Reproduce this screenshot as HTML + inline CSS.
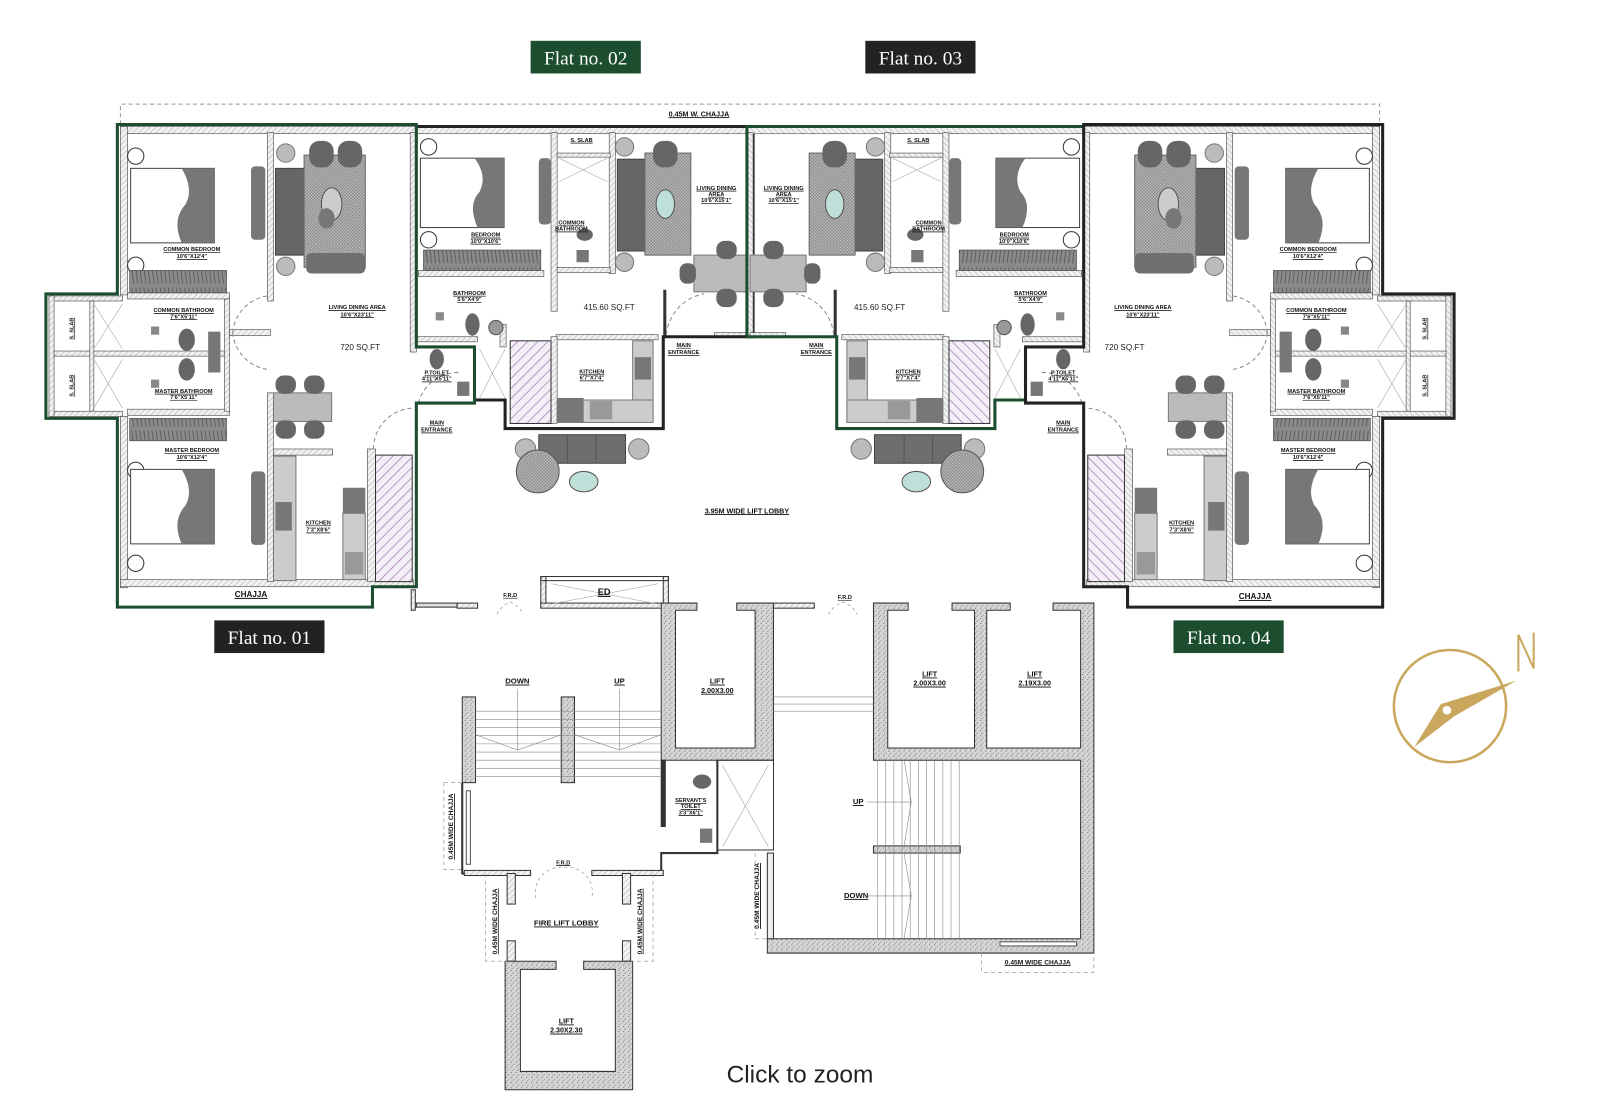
<!DOCTYPE html>
<html><head><meta charset="utf-8"><style>
html,body{margin:0;padding:0;background:#fff;width:1600px;height:1100px;overflow:hidden}
svg{display:block}
.t{font-family:"Liberation Sans",sans-serif;font-size:5.5px;font-weight:bold;fill:#111;text-decoration:underline;text-anchor:middle}
.m{font-family:"Liberation Sans",sans-serif;font-size:8px;fill:#222;text-anchor:middle}
.tag{font-family:"Liberation Serif",serif;font-size:19px;fill:#fff;text-anchor:middle}
</style></head><body>
<svg width="1600" height="1100" viewBox="0 0 1568 1078" xmlns="http://www.w3.org/2000/svg">
<defs>
<pattern id="hw" width="4" height="4" patternUnits="userSpaceOnUse" patternTransform="rotate(45)"><rect width="4" height="4" fill="#f2f2f2"/><line x1="0" y1="0" x2="0" y2="4" stroke="#999" stroke-width="0.8"/></pattern>
<pattern id="pu" width="7" height="7" patternUnits="userSpaceOnUse" patternTransform="rotate(45)"><rect width="7" height="7" fill="#f4eef6"/><line x1="0" y1="0" x2="0" y2="7" stroke="#9a6fae" stroke-width="1.3"/></pattern>
<pattern id="ck" width="3" height="3" patternUnits="userSpaceOnUse"><rect width="3" height="3" fill="#bdbdbd"/><rect width="1.5" height="1.5" fill="#888"/><rect x="1.5" y="1.5" width="1.5" height="1.5" fill="#888"/></pattern>
<pattern id="sp" width="5" height="5" patternUnits="userSpaceOnUse"><rect width="5" height="5" fill="#d6d6d6"/><circle cx="1" cy="1" r=".6" fill="#777"/><circle cx="3.5" cy="3" r=".6" fill="#999"/><circle cx="2" cy="4.2" r=".5" fill="#666"/></pattern>
<pattern id="wd" width="8" height="20" patternUnits="userSpaceOnUse"><rect width="8" height="20" fill="#8a8a8a"/><path d="M1 2 L3 18 M5 2 L7 18" stroke="#555" stroke-width=".8"/></pattern>
</defs>

<!-- top chajja dashed -->
<path d="M118,122 V102 H1352 V122" fill="none" stroke="#999" stroke-width="1" stroke-dasharray="4,3"/>

<g style="--a:#1b4d2e;--b:#222">
<g id="L">
 <!-- exterior walls flat1 -->
 <rect x="118" y="124" width="290" height="7" fill="url(#hw)" stroke="#444" stroke-width=".6"/>
 <rect x="118" y="124" width="7" height="165" fill="url(#hw)" stroke="#444" stroke-width=".6"/>
 <rect x="118" y="408" width="7" height="168" fill="url(#hw)" stroke="#444" stroke-width=".6"/>
 <rect x="118" y="568" width="287" height="7" fill="url(#hw)" stroke="#444" stroke-width=".6"/>
 <line x1="160" y1="131" x2="250" y2="131" stroke="#999" stroke-dasharray="6,4"/>
 <line x1="290" y1="131" x2="395" y2="131" stroke="#999" stroke-dasharray="6,4"/>
 <line x1="160" y1="568" x2="250" y2="568" stroke="#999" stroke-dasharray="6,4"/>
 <!-- interior walls -->
 <rect x="262" y="130" width="6" height="165" fill="url(#hw)" stroke="#444" stroke-width=".6"/>
 <rect x="262" y="385" width="6" height="185" fill="url(#hw)" stroke="#444" stroke-width=".6"/>
 <rect x="402" y="130" width="6" height="215" fill="url(#hw)" stroke="#444" stroke-width=".6"/>
 <rect x="125" y="287" width="100" height="6" fill="url(#hw)" stroke="#444" stroke-width=".6"/>
 <rect x="125" y="401" width="100" height="6" fill="url(#hw)" stroke="#444" stroke-width=".6"/>
 <rect x="48" y="290" width="72" height="5" fill="url(#hw)" stroke="#444" stroke-width=".6"/>
 <rect x="48" y="403" width="72" height="5" fill="url(#hw)" stroke="#444" stroke-width=".6"/>
 <rect x="48" y="290" width="5" height="118" fill="url(#hw)" stroke="#444" stroke-width=".6"/>
 <rect x="53" y="344" width="172" height="5" fill="url(#hw)" stroke="#444" stroke-width=".6"/>
 <rect x="88" y="295" width="4" height="108" fill="url(#hw)" stroke="#444" stroke-width=".6"/>
 <rect x="220" y="293" width="5" height="110" fill="url(#hw)" stroke="#444" stroke-width=".6"/>
 <rect x="225" y="323" width="40" height="6" fill="url(#hw)" stroke="#444" stroke-width=".6"/>
 <rect x="268" y="440" width="58" height="6" fill="url(#hw)" stroke="#444" stroke-width=".6"/>
 <rect x="360" y="440" width="8" height="130" fill="url(#hw)" stroke="#444" stroke-width=".6"/>
 <path d="M92,298 L120,342 M120,298 L92,342 M92,352 L120,400 M120,352 L92,400" stroke="#aaa" stroke-width=".6"/>
 <!-- shaft -->
 <rect x="368" y="446" width="36" height="124" fill="url(#pu)" stroke="#333" stroke-width="1"/>
 <!-- bedrooms -->
 <circle cx="133" cy="153" r="8" fill="#fff" stroke="#333"/>
 <circle cx="133" cy="260" r="8" fill="#fff" stroke="#333"/>
 <rect x="128" y="165" width="82" height="73" fill="#fff" stroke="#444"/>
 <path d="M178,165 H210 V238 H178 Q168,215 182,200 Q190,185 178,165Z" fill="#777"/>
 <rect x="127" y="265" width="95" height="22" fill="url(#wd)" stroke="#444" stroke-width=".6"/>
 <circle cx="133" cy="461" r="8" fill="#fff" stroke="#333"/>
 <circle cx="133" cy="552" r="8" fill="#fff" stroke="#333"/>
 <rect x="128" y="460" width="82" height="73" fill="#fff" stroke="#444"/>
 <path d="M178,460 H210 V533 H178 Q168,510 182,495 Q190,480 178,460Z" fill="#777"/>
 <rect x="127" y="410" width="95" height="22" fill="url(#wd)" stroke="#444" stroke-width=".6"/>
 <rect x="246" y="163" width="14" height="72" rx="4" fill="#777"/>
 <rect x="246" y="462" width="14" height="72" rx="4" fill="#777"/>
 <!-- bathrooms -->
 <ellipse cx="183" cy="333" rx="8" ry="11" fill="#666"/>
 <ellipse cx="183" cy="362" rx="8" ry="11" fill="#666"/>
 <rect x="148" y="320" width="8" height="8" fill="#888"/>
 <rect x="148" y="372" width="8" height="8" fill="#888"/>
 <rect x="204" y="325" width="12" height="40" fill="#777"/>
 <!-- living sofa set -->
 <rect x="270" y="165" width="30" height="85" fill="#666" stroke="#444"/>
 <rect x="298" y="152" width="60" height="110" fill="url(#ck)" stroke="#666"/>
 <rect x="303" y="138" width="24" height="26" rx="10" fill="#666"/>
 <rect x="331" y="138" width="24" height="26" rx="10" fill="#666"/>
 <rect x="300" y="248" width="58" height="20" rx="5" fill="#707070"/>
 <ellipse cx="325" cy="200" rx="10" ry="16" fill="#ccc" stroke="#555"/>
 <ellipse cx="320" cy="214" rx="8" ry="10" fill="#777"/>
 <circle cx="280" cy="150" r="9" fill="#bbb" stroke="#777"/>
 <circle cx="280" cy="261" r="9" fill="#bbb" stroke="#777"/>
 <!-- dining -->
 <rect x="268" y="385" width="57" height="28" fill="#bbb" stroke="#777"/>
 <rect x="270" y="368" width="20" height="18" rx="8" fill="#666"/>
 <rect x="298" y="368" width="20" height="18" rx="8" fill="#666"/>
 <rect x="270" y="412" width="20" height="18" rx="8" fill="#666"/>
 <rect x="298" y="412" width="20" height="18" rx="8" fill="#666"/>
 <!-- kitchen -->
 <rect x="268" y="447" width="22" height="122" fill="#ccc" stroke="#777"/>
 <rect x="270" y="492" width="16" height="28" fill="#777"/>
 <rect x="336" y="478" width="22" height="25" fill="#777"/>
 <rect x="336" y="503" width="22" height="65" fill="#ccc" stroke="#777"/>
 <rect x="338" y="541" width="18" height="22" fill="#999"/>
 <!-- door arcs -->
 <path d="M228,326 A40,40 0 0 1 262,290 M228,326 A40,40 0 0 0 262,362" fill="none" stroke="#888" stroke-dasharray="4,3"/>
 <path d="M366,440 A40,40 0 0 1 406,400" fill="none" stroke="#888" stroke-dasharray="4,3"/>

 <!-- flat2 walls -->
 <rect x="408" y="124" width="330" height="7" fill="url(#hw)" stroke="#444" stroke-width=".6"/>
 <line x1="420" y1="131" x2="530" y2="131" stroke="#999" stroke-dasharray="6,4"/>
 <line x1="605" y1="131" x2="730" y2="131" stroke="#999" stroke-dasharray="6,4"/>
 <rect x="540" y="130" width="6" height="175" fill="url(#hw)" stroke="#444" stroke-width=".6"/>
 <rect x="597" y="130" width="6" height="138" fill="url(#hw)" stroke="#444" stroke-width=".6"/>
 <rect x="546" y="150" width="52" height="4" fill="url(#hw)" stroke="#444" stroke-width=".6"/>
 <rect x="546" y="262" width="52" height="5" fill="url(#hw)" stroke="#444" stroke-width=".6"/>
 <path d="M548,155 L595,178 M595,155 L548,178" stroke="#aaa" stroke-width=".6"/>
 <rect x="410" y="265" width="123" height="6" fill="url(#hw)" stroke="#444" stroke-width=".6"/>
 <rect x="408" y="330" width="60" height="5" fill="url(#hw)" stroke="#444" stroke-width=".6"/>
 <rect x="732" y="130" width="6" height="200" fill="url(#hw)" stroke="#444" stroke-width=".6"/>
 <rect x="545" y="328" width="100" height="5" fill="url(#hw)" stroke="#444" stroke-width=".6"/>
 <rect x="650" y="284" width="3" height="46" fill="#333"/>
 <rect x="700" y="326" width="35" height="5" fill="url(#hw)" stroke="#444" stroke-width=".6"/>
 <rect x="490" y="318" width="6" height="22" fill="url(#hw)" stroke="#444" stroke-width=".6"/>
 <rect x="540" y="330" width="6" height="85" fill="url(#hw)" stroke="#444" stroke-width=".6"/>
 <rect x="465" y="340" width="30" height="52" fill="none"/>
 <path d="M470,342 L495,390 M495,342 L470,390" stroke="#aaa" stroke-width=".6"/>
 <rect x="500" y="334" width="40" height="81" fill="url(#pu)" stroke="#333"/>
 <!-- flat2 furniture -->
 <circle cx="420" cy="144" r="8" fill="#fff" stroke="#333"/>
 <circle cx="420" cy="235" r="8" fill="#fff" stroke="#333"/>
 <rect x="412" y="155" width="82" height="68" fill="#fff" stroke="#444"/>
 <path d="M465,155 H494 V223 H468 Q458,200 470,188 Q478,172 465,155Z" fill="#777"/>
 <rect x="415" y="245" width="115" height="20" fill="url(#wd)" stroke="#444" stroke-width=".6"/>
 <rect x="528" y="155" width="12" height="65" rx="4" fill="#777"/>
 <rect x="605" y="156" width="28" height="90" fill="#666" stroke="#444"/>
 <rect x="632" y="150" width="45" height="100" fill="url(#ck)" stroke="#666"/>
 <rect x="640" y="138" width="24" height="26" rx="10" fill="#666"/>
 <ellipse cx="652" cy="200" rx="9" ry="14" fill="#bfe0d8" stroke="#555"/>
 <circle cx="612" cy="144" r="9" fill="#bbb" stroke="#777"/>
 <circle cx="612" cy="257" r="9" fill="#bbb" stroke="#777"/>
 <rect x="680" y="250" width="55" height="36" fill="#bbb" stroke="#777"/>
 <rect x="702" y="236" width="20" height="18" rx="8" fill="#666"/>
 <rect x="702" y="283" width="20" height="18" rx="8" fill="#666"/>
 <rect x="666" y="258" width="16" height="20" rx="7" fill="#666"/>
 <ellipse cx="573" cy="230" rx="8" ry="6" fill="#666"/>
 <rect x="565" y="245" width="12" height="12" fill="#777"/>
 <ellipse cx="463" cy="318" rx="7" ry="11" fill="#666"/>
 <rect x="427" y="306" width="8" height="8" fill="#888"/>
 <circle cx="486" cy="321" r="7" fill="#999" stroke="#555"/>
 <ellipse cx="428" cy="352" rx="7" ry="10" fill="#666"/>
 <rect x="448" y="374" width="12" height="14" fill="#777"/>
 <!-- kitchen -->
 <rect x="620" y="334" width="20" height="78" fill="#ccc" stroke="#777"/>
 <rect x="622" y="350" width="16" height="22" fill="#777"/>
 <rect x="546" y="392" width="94" height="22" fill="#ccc" stroke="#777"/>
 <rect x="546" y="390" width="26" height="24" fill="#777"/>
 <rect x="578" y="393" width="22" height="18" fill="#999"/>
 <!-- lobby seating -->
 <rect x="528" y="426" width="85" height="28" fill="#6e6e6e" stroke="#444"/>
 <line x1="556" y1="426" x2="556" y2="454" stroke="#555"/><line x1="584" y1="426" x2="584" y2="454" stroke="#555"/>
 <circle cx="515" cy="440" r="10" fill="#bbb" stroke="#777"/>
 <circle cx="626" cy="440" r="10" fill="#bbb" stroke="#777"/>
 <circle cx="527" cy="462" r="21" fill="url(#ck)" stroke="#555"/>
 <ellipse cx="572" cy="472" rx="14" ry="10" fill="#bfe0d8" stroke="#555"/>
 <path d="M653,328 A45,45 0 0 1 690,288" fill="none" stroke="#888" stroke-dasharray="4,3"/>
 <path d="M410,395 A40,40 0 0 1 450,365" fill="none" stroke="#888" stroke-dasharray="4,3"/>
 <!-- outlines -->
 <path d="M408,124 H738 V330 H650 V420 H495 V392 H465" fill="none" style="stroke:var(--b)" stroke-width="3"/>
 <path d="M115,122 H408 V340 H465 V395 H408 V575 H365 V595 H115 V410 H45 V288 H115 Z" fill="none" style="stroke:var(--a)" stroke-width="3"/>
</g>
</g>
<use href="#L" transform="translate(1470,0) scale(-1,1)" style="--a:#222;--b:#1b4d2e"/>

<!-- core bottom -->
<g stroke="#333" stroke-width="1">
 <rect x="403" y="578" width="4" height="20" fill="url(#hw)"/>
 <rect x="408" y="591" width="40" height="4" fill="#ddd"/>
 <rect x="448" y="591" width="20" height="5" fill="url(#hw)"/>
 <rect x="530" y="565" width="5" height="30" fill="url(#hw)"/>
 <rect x="650" y="565" width="5" height="30" fill="url(#hw)"/>
 <rect x="530" y="591" width="120" height="5" fill="url(#hw)"/>
 <rect x="530" y="565" width="125" height="4" fill="none"/>
 <path d="M540,572 L645,592 M645,572 L540,592" stroke="#aaa" stroke-width=".6"/>
 <!-- lift 1 -->
 <path d="M648,591 H683 V598 H662 V733 H740 V598 H722 V591 H758 V745 H648 Z" fill="url(#sp)"/>
 <!-- lifts 2,3 -->
 <path d="M856,591 H890 V598 H870 V733 H955 V598 H933 V591 H990 V598 H967 V733 H1059 V598 H1032 V591 H1072 V934 H752 V920 H1059 V745 H856 Z" fill="url(#sp)"/>
 <rect x="758" y="591" width="40" height="5" fill="url(#hw)"/>
 <rect x="856" y="829" width="85" height="7" fill="url(#sp)"/>
 <!-- left stair -->
 <rect x="453" y="683" width="13" height="84" fill="url(#sp)"/>
 <rect x="550" y="683" width="13" height="84" fill="url(#sp)"/>
 <path d="M453,767 V856 H520 M580,856 H648 V836 H703 V745" fill="none" stroke="#333" stroke-width="2"/>
 <rect x="455" y="853" width="65" height="5" fill="url(#hw)"/>
 <rect x="580" y="853" width="70" height="5" fill="url(#hw)"/>
 <rect x="648" y="745" width="4" height="65" fill="#333"/>
 <rect x="703" y="745" width="55" height="88" fill="none"/>
 <path d="M708,750 L753,830 M753,750 L708,830" stroke="#aaa" stroke-width=".6"/>
 <!-- fire lift lobby -->
 <rect x="497" y="856" width="8" height="30" fill="url(#hw)"/>
 <rect x="610" y="856" width="8" height="30" fill="url(#hw)"/>
 <rect x="497" y="922" width="8" height="20" fill="url(#hw)"/>
 <rect x="610" y="922" width="8" height="20" fill="url(#hw)"/>
 <path d="M495,942 H545 V950 H510 V1050 H603 V950 H572 V942 H620 V1068 H495 Z" fill="url(#sp)"/>
 <rect x="752" y="836" width="6" height="84" fill="#eee"/>
</g>
<g stroke="#888" stroke-width=".6" fill="none">
 <path d="M466,697 H648 M466,705 H648 M466,713 H648 M466,721 H648 M466,729 H648 M466,737 H648 M466,745 H648 M466,753 H648 M466,761 H648"/>
 <path d="M466,720 L507,735 L550,720 M563,720 L607,735 L648,720 M507,675 V735 M607,675 V735"/>
 <path d="M758,683 H856 M758,690 H856 M758,697 H856"/>
 <path d="M860,745 V920 M868,745 V920 M876,745 V920 M884,745 V920 M892,745 V920 M900,745 V920 M908,745 V920 M916,745 V920 M924,745 V920 M932,745 V920 M940,745 V920"/>
 <path d="M886,745 L893,786 L886,829 M886,836 L893,878 L886,920 M850,786 H893 M850,878 H893"/>
 <path d="M435,767 H453 M435,767 V852 H453" stroke-dasharray="4,3"/>
 <path d="M476,856 V942 H497 M640,856 V942 H618 M740,836 V920 H752 M962,934 V953 H1072 V934" stroke-dasharray="4,3"/>
 <path d="M487,602 A25,25 0 0 1 500,590 A25,25 0 0 1 513,602 M812,602 A25,25 0 0 1 826,590 A25,25 0 0 1 840,602 M525,880 A25,25 0 0 1 552,850 A25,25 0 0 1 580,880" stroke-dasharray="3,3"/>
</g>
<rect x="457" y="775" width="4" height="72" fill="#fff" stroke="#555"/>
<rect x="980" y="923" width="75" height="4" fill="#fff" stroke="#555"/>
<ellipse cx="688" cy="766" rx="9" ry="7" fill="#666"/>
<rect x="686" y="812" width="12" height="14" fill="#777"/>

<!-- labels -->
<g class="t">
<text x="188" y="246" class="t">COMMON BEDROOM</text><text x="188" y="253" class="t">10'6"X12'4"</text>
<text x="1282" y="246" class="t">COMMON BEDROOM</text><text x="1282" y="253" class="t">10'6"X12'4"</text>
<text x="350" y="303" class="t">LIVING DINING AREA</text><text x="350" y="310" class="t">10'6"X23'11"</text>
<text x="1120" y="303" class="t">LIVING DINING AREA</text><text x="1120" y="310" class="t">10'6"X23'11"</text>
<text x="180" y="306" class="t">COMMON BATHROOM</text><text x="180" y="312" class="t">7'6"X5'11"</text>
<text x="1290" y="306" class="t">COMMON BATHROOM</text><text x="1290" y="312" class="t">7'6"X5'11"</text>
<text x="180" y="385" class="t">MASTER BATHROOM</text><text x="180" y="391" class="t">7'6"X5'11"</text>
<text x="1290" y="385" class="t">MASTER BATHROOM</text><text x="1290" y="391" class="t">7'6"X5'11"</text>
<text x="188" y="443" class="t">MASTER BEDROOM</text><text x="188" y="450" class="t">10'6"X12'4"</text>
<text x="1282" y="443" class="t">MASTER BEDROOM</text><text x="1282" y="450" class="t">10'6"X12'4"</text>
<text x="312" y="514" class="t">KITCHEN</text><text x="312" y="521" class="t">7'3"X8'6"</text>
<text x="1158" y="514" class="t">KITCHEN</text><text x="1158" y="521" class="t">7'3"X8'6"</text>
<text x="428" y="367" class="t">P.TOILET</text><text x="428" y="373" class="t">4'11"X5'11"</text>
<text x="1042" y="367" class="t">P.TOILET</text><text x="1042" y="373" class="t">4'11"X5'11"</text>
<text x="428" y="416" class="t">MAIN</text><text x="428" y="423" class="t">ENTRANCE</text>
<text x="1042" y="416" class="t">MAIN</text><text x="1042" y="423" class="t">ENTRANCE</text>
<text x="476" y="232" class="t">BEDROOM</text><text x="476" y="238" class="t">10'0"X10'6"</text>
<text x="994" y="232" class="t">BEDROOM</text><text x="994" y="238" class="t">10'0"X10'6"</text>
<text x="570" y="139" class="t">S. SLAB</text><text x="900" y="139" class="t">S. SLAB</text>
<text x="560" y="220" class="t">COMMON</text><text x="560" y="226" class="t">BATHROOM</text>
<text x="910" y="220" class="t">COMMON</text><text x="910" y="226" class="t">BATHROOM</text>
<text x="702" y="186" class="t">LIVING DINING</text><text x="702" y="192" class="t">AREA</text><text x="702" y="198" class="t">10'6"X15'1"</text>
<text x="768" y="186" class="t">LIVING DINING</text><text x="768" y="192" class="t">AREA</text><text x="768" y="198" class="t">10'6"X15'1"</text>
<text x="460" y="289" class="t">BATHROOM</text><text x="460" y="295" class="t">5'6"X4'9"</text>
<text x="1010" y="289" class="t">BATHROOM</text><text x="1010" y="295" class="t">5'6"X4'9"</text>
<text x="580" y="366" class="t">KITCHEN</text><text x="580" y="372" class="t">6'7"X7'4"</text>
<text x="890" y="366" class="t">KITCHEN</text><text x="890" y="372" class="t">6'7"X7'4"</text>
<text x="670" y="340" class="t">MAIN</text><text x="670" y="347" class="t">ENTRANCE</text>
<text x="800" y="340" class="t">MAIN</text><text x="800" y="347" class="t">ENTRANCE</text>
<text x="72" y="322" class="t" transform="rotate(-90 72 322)">S. SLAB</text>
<text x="72" y="378" class="t" transform="rotate(-90 72 378)">S. SLAB</text>
<text x="1398" y="322" class="t" transform="rotate(-90 1398 322)">S. SLAB</text>
<text x="1398" y="378" class="t" transform="rotate(-90 1398 378)">S. SLAB</text>
<text x="685" y="114" class="t" style="font-size:7px">0.45M W. CHAJJA</text>
<text x="732" y="503" class="t" style="font-size:7px">3.95M WIDE LIFT LOBBY</text>
<text x="500" y="585" class="t">F.R.D</text><text x="828" y="587" class="t">F.R.D</text><text x="552" y="847" class="t">F.R.D</text>
<text x="592" y="583" class="t" style="font-size:9px">ED</text>
<text x="703" y="670" class="t" style="font-size:7px">LIFT</text><text x="703" y="679" class="t" style="font-size:7px">2.00X3.00</text>
<text x="911" y="663" class="t" style="font-size:7px">LIFT</text><text x="911" y="672" class="t" style="font-size:7px">2.00X3.00</text>
<text x="1014" y="663" class="t" style="font-size:7px">LIFT</text><text x="1014" y="672" class="t" style="font-size:7px">2.19X3.00</text>
<text x="507" y="670" class="t" style="font-size:7.5px">DOWN</text><text x="607" y="670" class="t" style="font-size:7.5px">UP</text>
<text x="677" y="786" class="t">SERVANT'S</text><text x="677" y="792" class="t">TOILET</text><text x="677" y="798" class="t">3'3"X6'1"</text>
<text x="841" y="788" class="t" style="font-size:7.5px">UP</text><text x="839" y="880" class="t" style="font-size:7.5px">DOWN</text>
<text x="555" y="907" class="t" style="font-size:7.5px">FIRE LIFT LOBBY</text>
<text x="555" y="1003" class="t" style="font-size:7px">LIFT</text><text x="555" y="1012" class="t" style="font-size:7px">2.30X2.30</text>
<text x="1017" y="945" class="t" style="font-size:6.5px">0.45M WIDE CHAJJA</text>
<text x="444" y="810" class="t" style="font-size:6.5px" transform="rotate(-90 444 810)">0.45M WIDE CHAJJA</text>
<text x="487" y="903" class="t" style="font-size:6.5px" transform="rotate(-90 487 903)">0.45M WIDE CHAJJA</text>
<text x="629" y="903" class="t" style="font-size:6.5px" transform="rotate(-90 629 903)">0.45M WIDE CHAJJA</text>
<text x="744" y="878" class="t" style="font-size:6.5px" transform="rotate(-90 744 878)">0.45M WIDE CHAJJA</text>
<text x="246" y="585" class="t" style="font-size:8px">CHAJJA</text><text x="1230" y="587" class="t" style="font-size:8px">CHAJJA</text>
</g>
<text x="353" y="343" class="m">720 SQ.FT</text><text x="1102" y="343" class="m">720 SQ.FT</text>
<text x="597" y="304" class="m">415.60 SQ.FT</text><text x="862" y="304" class="m">415.60 SQ.FT</text>

<!-- flat tags -->
<rect x="520" y="40" width="108" height="32" fill="#1b4d2e"/><text x="574" y="63" class="tag">Flat no. 02</text>
<rect x="848" y="40" width="108" height="32" fill="#222"/><text x="902" y="63" class="tag">Flat no. 03</text>
<rect x="210" y="608" width="108" height="32" fill="#222"/><text x="264" y="631" class="tag">Flat no. 01</text>
<rect x="1150" y="608" width="108" height="32" fill="#1b4d2e"/><text x="1204" y="631" class="tag">Flat no. 04</text>

<!-- compass -->
<circle cx="1421" cy="692" r="55" fill="none" stroke="#c9a75c" stroke-width="2.5"/>
<path d="M1386,732 L1412,690 L1486,667 L1425,702 Z" fill="#c9a75c"/>
<circle cx="1418" cy="696" r="5" fill="#fff" stroke="#c9a75c" stroke-width="1.5"/>
<path d="M1488,658 V622 L1503,655 V620" fill="none" stroke="#c9a75c" stroke-width="2"/>

<text x="784" y="1061" style="font-family:'Liberation Sans',sans-serif;font-size:24px;fill:#222;text-anchor:middle">Click to zoom</text>
</svg>
</body></html>
